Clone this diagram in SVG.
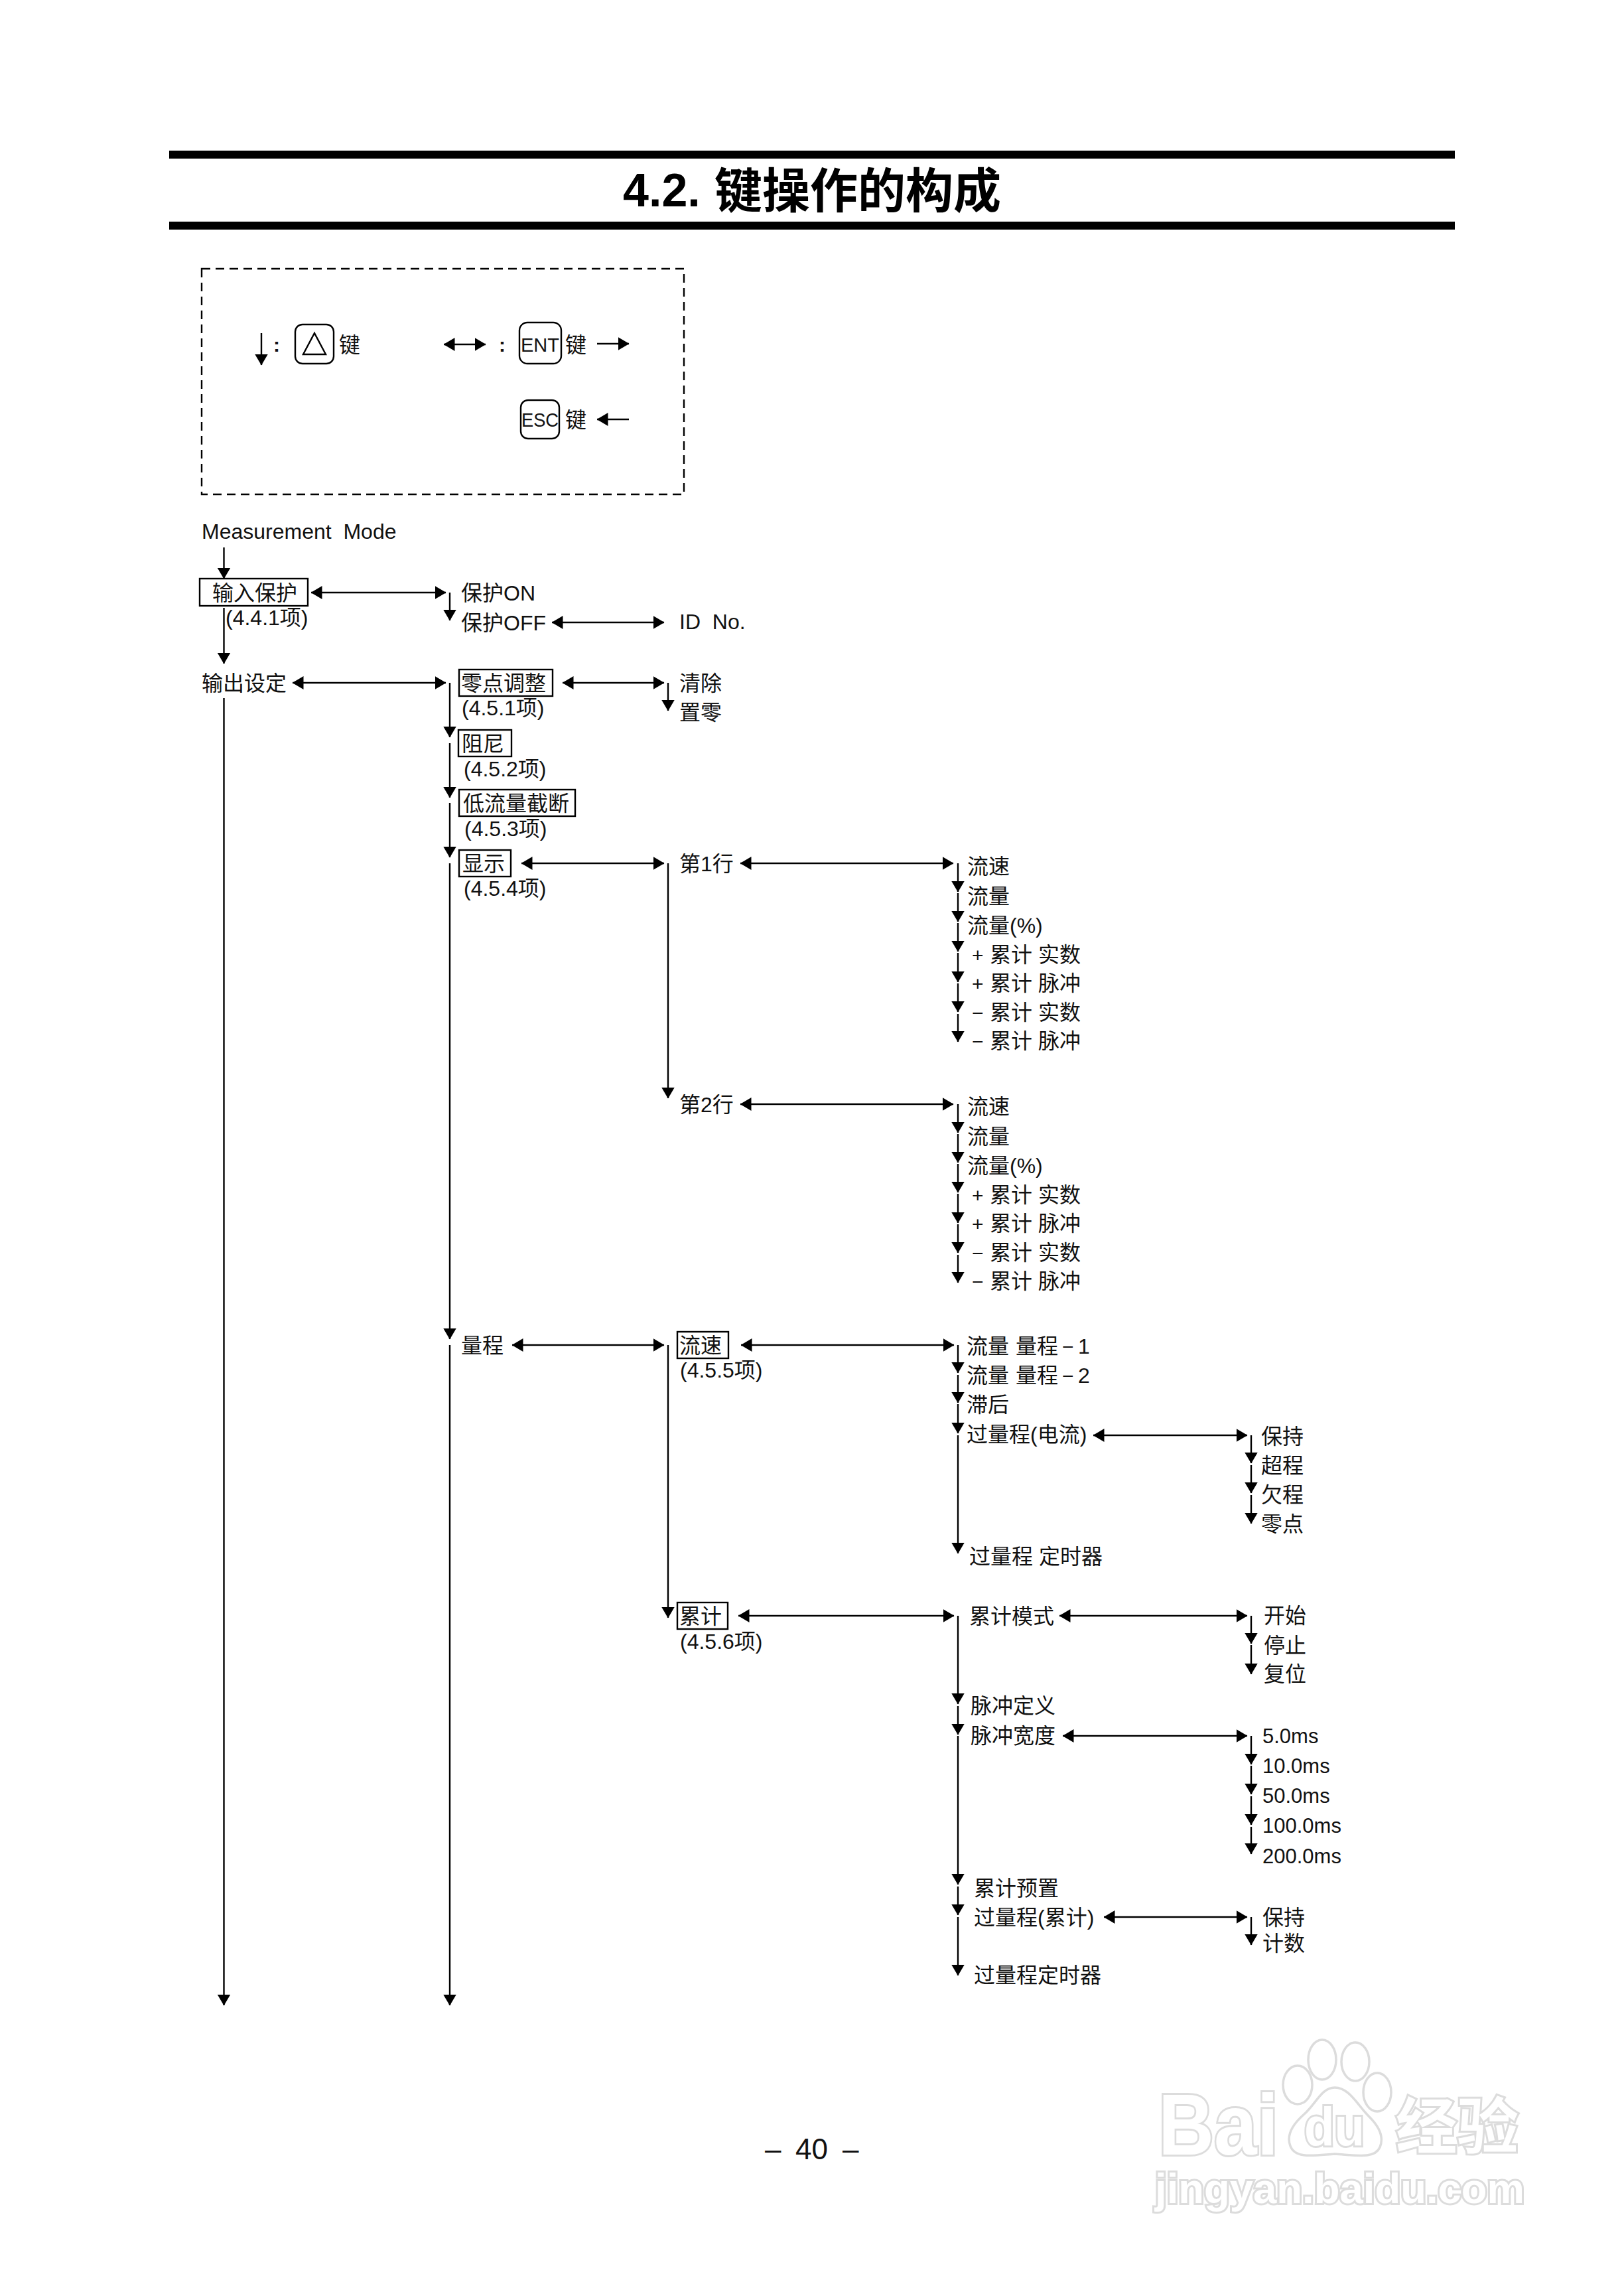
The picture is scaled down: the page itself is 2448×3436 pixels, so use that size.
<svg xmlns="http://www.w3.org/2000/svg" width="2448" height="3436" viewBox="0 0 2448 3436">
<style>
text{font-family:"Liberation Sans","Noto Sans CJK SC",sans-serif;fill:#111}
.t{font-size:32px}
.l{font-size:32px}
.s{font-size:30px}
.ms{font-size:31px}
.title{font-size:72px;font-weight:700;fill:#000}
.box{fill:#fff;stroke:#000;stroke-width:2.4}
.key{fill:none;stroke:#000;stroke-width:2.4}
.c line{stroke:#000;stroke-width:2.4}
.d{marker-end:url(#h)}
.b{marker-start:url(#hs);marker-end:url(#h)}
.wm text{fill:#fff;stroke:#dcdcdc;stroke-width:6;font-weight:700;paint-order:stroke}
.wm ellipse,.wm path{fill:#fff;stroke:#dcdcdc;stroke-width:3.5}
</style>
<defs>
<marker id="h" markerUnits="userSpaceOnUse" viewBox="0 0 17 20" markerWidth="17" markerHeight="20" refX="16.5" refY="10" orient="auto"><path d="M0 0L17 10L0 20Z" fill="#000"/></marker>
<marker id="hs" markerUnits="userSpaceOnUse" viewBox="0 0 17 20" markerWidth="17" markerHeight="20" refX="0.5" refY="10" orient="auto"><path d="M17 0L0 10L17 20Z" fill="#000"/></marker>
</defs>
<rect width="2448" height="3436" fill="#fff"/>

<g id="title">
<rect x="255" y="227" width="1938" height="12" fill="#000"/>
<rect x="255" y="334" width="1938" height="12" fill="#000"/>
<text class="title" y="311"><tspan x="939" font-size="70">4.2.</tspan><tspan x="1077" y="313">键操作的构成</tspan></text>
</g>

<g id="legend">
<rect x="304" y="405" width="727" height="340" fill="none" stroke="#000" stroke-width="2.4" stroke-dasharray="13 8"/>
<text class="s" x="412" y="530" font-weight="700">:</text>
<rect class="key" x="445" y="489" width="58" height="59" rx="11"/>
<path class="key" d="M474 502L457 534H491Z"/>
<text class="t" x="511" y="531">键</text>
<text class="s" x="752" y="530" font-weight="700">:</text>
<rect class="key" x="783" y="486" width="63" height="62" rx="12"/>
<text class="s" x="785" y="530" textLength="58" lengthAdjust="spacingAndGlyphs">ENT</text>
<text class="t" x="852" y="531">键</text>
<rect class="key" x="785" y="603" width="58" height="58" rx="11"/>
<text class="s" x="786" y="643" textLength="56" lengthAdjust="spacingAndGlyphs">ESC</text>
<text class="t" x="852" y="644">键</text>
</g>

<g id="connectors" class="c">
<line class="d" x1="394" y1="502" x2="394" y2="550"/>
<line class="b" x1="669" y1="519" x2="732" y2="519"/>
<line class="d" x1="900" y1="518" x2="948" y2="518"/>
<line class="d" x1="948" y1="632" x2="900" y2="632"/>

<line class="d" x1="337.500" y1="825" x2="337.500" y2="872"/>
<line class="d" x1="337.500" y1="916" x2="337.500" y2="1000"/>
<line class="d" x1="337.500" y1="1052" x2="337.500" y2="3022"/>
<line class="b" x1="469" y1="893" x2="672" y2="893"/>
<line class="d" x1="678" y1="893" x2="678" y2="935"/>
<line class="b" x1="832" y1="938" x2="1001" y2="938"/>
<line class="b" x1="441" y1="1029" x2="672" y2="1029"/>
<line class="d" x1="678" y1="1029" x2="678" y2="1111"/>
<line class="b" x1="848" y1="1029" x2="1001" y2="1029"/>
<line class="d" x1="1007" y1="1029" x2="1007" y2="1071"/>
<line class="d" x1="678" y1="1120" x2="678" y2="1202"/>
<line class="d" x1="678" y1="1210" x2="678" y2="1292"/>
<line class="d" x1="678" y1="1301" x2="678" y2="2018"/>
<line class="b" x1="786" y1="1301" x2="1001" y2="1301"/>
<line class="d" x1="1007" y1="1301" x2="1007" y2="1655"/>
<line class="b" x1="1116" y1="1301" x2="1437" y2="1301"/>
<line class="d" x1="1444" y1="1301" x2="1444" y2="1344"/>
<line class="d" x1="1444" y1="1346" x2="1444" y2="1389"/>
<line class="d" x1="1444" y1="1391" x2="1444" y2="1434"/>
<line class="d" x1="1444" y1="1436" x2="1444" y2="1480"/>
<line class="d" x1="1444" y1="1482" x2="1444" y2="1525"/>
<line class="d" x1="1444" y1="1528" x2="1444" y2="1570"/>
<line class="b" x1="1116" y1="1664" x2="1437" y2="1664"/>
<line class="d" x1="1444" y1="1664" x2="1444" y2="1707"/>
<line class="d" x1="1444" y1="1709" x2="1444" y2="1752"/>
<line class="d" x1="1444" y1="1754" x2="1444" y2="1797"/>
<line class="d" x1="1444" y1="1799" x2="1444" y2="1843"/>
<line class="d" x1="1444" y1="1845" x2="1444" y2="1888"/>
<line class="d" x1="1444" y1="1891" x2="1444" y2="1933"/>
<line class="d" x1="678" y1="2027" x2="678" y2="3022"/>
<line class="b" x1="772" y1="2027" x2="1001" y2="2027"/>
<line class="d" x1="1007" y1="2027" x2="1007" y2="2438"/>
<line class="b" x1="1117" y1="2027" x2="1438" y2="2027"/>
<line class="d" x1="1444" y1="2027" x2="1444" y2="2069"/>
<line class="d" x1="1444" y1="2072" x2="1444" y2="2114"/>
<line class="d" x1="1444" y1="2116" x2="1444" y2="2160"/>
<line class="d" x1="1444" y1="2163" x2="1444" y2="2341"/>
<line class="b" x1="1648" y1="2163" x2="1880" y2="2163"/>
<line class="d" x1="1886" y1="2163" x2="1886" y2="2205"/>
<line class="d" x1="1886" y1="2208" x2="1886" y2="2250"/>
<line class="d" x1="1886" y1="2253" x2="1886" y2="2296"/>
<line class="b" x1="1113" y1="2435" x2="1438" y2="2435"/>
<line class="d" x1="1444" y1="2435" x2="1444" y2="2568"/>
<line class="b" x1="1597" y1="2435" x2="1880" y2="2435"/>
<line class="d" x1="1886" y1="2435" x2="1886" y2="2477"/>
<line class="d" x1="1886" y1="2479" x2="1886" y2="2523"/>
<line class="d" x1="1444" y1="2571" x2="1444" y2="2614"/>
<line class="d" x1="1444" y1="2616" x2="1444" y2="2840"/>
<line class="b" x1="1602" y1="2616" x2="1880" y2="2616"/>
<line class="d" x1="1886" y1="2616" x2="1886" y2="2659"/>
<line class="d" x1="1886" y1="2661" x2="1886" y2="2704"/>
<line class="d" x1="1886" y1="2707" x2="1886" y2="2750"/>
<line class="d" x1="1886" y1="2753" x2="1886" y2="2794"/>
<line class="d" x1="1444" y1="2843" x2="1444" y2="2886"/>
<line class="d" x1="1444" y1="2889" x2="1444" y2="2977"/>
<line class="b" x1="1664" y1="2889" x2="1880" y2="2889"/>
<line class="d" x1="1886" y1="2889" x2="1886" y2="2931"/>
</g>

<g id="n-mode"><text class="l" x="304" y="812" xml:space="preserve">Measurement  Mode</text></g>
<g id="n-input"><rect class="box" x="301" y="872" width="163" height="41"/><text class="t" x="320" y="905">输入保护</text><text class="l" x="340" y="942">(4.4.1项)</text></g>
<g id="n-on"><text class="t" x="695" y="905">保护ON</text></g>
<g id="n-off"><text class="t" x="695" y="950">保护OFF</text></g>
<g id="n-id"><text class="l" x="1024" y="948" xml:space="preserve">ID  No.</text></g>
<g id="n-output"><text class="t" x="304" y="1041">输出设定</text></g>
<g id="n-zero"><rect class="box" x="692" y="1009" width="141" height="40"/><text class="t" x="695" y="1041">零点调整</text><text class="l" x="696" y="1078">(4.5.1项)</text></g>
<g id="n-clear"><text class="t" x="1024" y="1041">清除</text></g>
<g id="n-setzero"><text class="t" x="1024" y="1085">置零</text></g>
<g id="n-damp"><rect class="box" x="691" y="1100" width="80" height="40"/><text class="t" x="696" y="1132">阻尼</text><text class="l" x="699" y="1170">(4.5.2项)</text></g>
<g id="n-lowcut"><rect class="box" x="692" y="1190" width="175" height="40"/><text class="t" x="698" y="1222">低流量截断</text><text class="l" x="700" y="1260">(4.5.3项)</text></g>
<g id="n-display"><rect class="box" x="692" y="1281" width="78" height="40"/><text class="t" x="697" y="1313">显示</text><text class="l" x="699" y="1350">(4.5.4项)</text></g>

<g id="n-row1"><text class="t" x="1024" y="1313">第1行</text></g>
<g id="n-row1-items">
<text class="t" x="1458" y="1317">流速</text>
<text class="t" x="1458" y="1362">流量</text>
<text class="t" x="1458" y="1406">流量(%)</text>
<text class="t" y="1450"><tspan class="s" x="1465">+</tspan><tspan x="1492">累计</tspan><tspan x="1565">实数</tspan></text>
<text class="t" y="1493"><tspan class="s" x="1465">+</tspan><tspan x="1492">累计</tspan><tspan x="1565">脉冲</tspan></text>
<text class="t" y="1537"><tspan class="s" x="1465">−</tspan><tspan x="1492">累计</tspan><tspan x="1565">实数</tspan></text>
<text class="t" y="1580"><tspan class="s" x="1465">−</tspan><tspan x="1492">累计</tspan><tspan x="1565">脉冲</tspan></text>
</g>
<g id="n-row2"><text class="t" x="1024" y="1676">第2行</text></g>
<g id="n-row2-items">
<text class="t" x="1458" y="1679">流速</text>
<text class="t" x="1458" y="1724">流量</text>
<text class="t" x="1458" y="1768">流量(%)</text>
<text class="t" y="1812"><tspan class="s" x="1465">+</tspan><tspan x="1492">累计</tspan><tspan x="1565">实数</tspan></text>
<text class="t" y="1855"><tspan class="s" x="1465">+</tspan><tspan x="1492">累计</tspan><tspan x="1565">脉冲</tspan></text>
<text class="t" y="1899"><tspan class="s" x="1465">−</tspan><tspan x="1492">累计</tspan><tspan x="1565">实数</tspan></text>
<text class="t" y="1942"><tspan class="s" x="1465">−</tspan><tspan x="1492">累计</tspan><tspan x="1565">脉冲</tspan></text>
</g>

<g id="n-range"><text class="t" x="695" y="2039">量程</text></g>
<g id="n-velocity"><rect class="box" x="1021" y="2007" width="77" height="40"/><text class="t" x="1024" y="2039">流速</text><text class="l" x="1025" y="2076">(4.5.5项)</text></g>
<g id="n-velocity-items">
<text class="t" y="2040"><tspan x="1457">流量</tspan><tspan x="1531">量程</tspan><tspan class="s" x="1601">−</tspan><tspan class="l" x="1625">1</tspan></text>
<text class="t" y="2084"><tspan x="1457">流量</tspan><tspan x="1531">量程</tspan><tspan class="s" x="1601">−</tspan><tspan class="l" x="1625">2</tspan></text>
<text class="t" x="1457" y="2128">滞后</text>
<text class="t" x="1457" y="2173">过量程(电流)</text>
<text class="t" y="2357"><tspan x="1461">过量程</tspan><tspan x="1566">定时器</tspan></text>
</g>
<g id="n-overrange-items">
<text class="t" x="1901" y="2176">保持</text>
<text class="t" x="1901" y="2220">超程</text>
<text class="t" x="1901" y="2264">欠程</text>
<text class="t" x="1901" y="2308">零点</text>
</g>
<g id="n-total"><rect class="box" x="1021" y="2415" width="76" height="40"/><text class="t" x="1024" y="2447">累计</text><text class="l" x="1025" y="2485">(4.5.6项)</text></g>
<g id="n-total-items">
<text class="t" x="1461" y="2447">累计模式</text>
<text class="t" x="1463" y="2582">脉冲定义</text>
<text class="t" x="1463" y="2627">脉冲宽度</text>
<text class="t" x="1468" y="2857">累计预置</text>
<text class="t" x="1468" y="2901">过量程(累计)</text>
<text class="t" x="1468" y="2988">过量程定时器</text>
</g>
<g id="n-mode-items">
<text class="t" x="1905" y="2446">开始</text>
<text class="t" x="1905" y="2491">停止</text>
<text class="t" x="1905" y="2534">复位</text>
</g>
<g id="n-width-items">
<text class="ms" x="1903" y="2627">5.0ms</text>
<text class="ms" x="1903" y="2672">10.0ms</text>
<text class="ms" x="1903" y="2717">50.0ms</text>
<text class="ms" x="1903" y="2762">100.0ms</text>
<text class="ms" x="1903" y="2808">200.0ms</text>
</g>
<g id="n-overtotal-items">
<text class="t" x="1903" y="2901">保持</text>
<text class="t" x="1903" y="2940">计数</text>
</g>

<g id="page"><text font-size="44" y="3254"><tspan x="1153">–</tspan><tspan x="1199">40</tspan><tspan x="1270">–</tspan></text></g>

<g id="watermark" class="wm">
<ellipse cx="1956" cy="3142" rx="22" ry="29"/>
<ellipse cx="1993" cy="3104" rx="21" ry="30"/>
<ellipse cx="2043" cy="3107" rx="21" ry="29"/>
<ellipse cx="2076" cy="3153" rx="21" ry="29"/>
<path d="M2012 3146C2034 3146 2046 3172 2064 3190C2080 3206 2086 3222 2080 3236C2072 3254 2044 3248 2012 3246C1982 3248 1952 3254 1945 3234C1938 3216 1950 3200 1966 3186C1984 3170 1992 3146 2012 3146Z"/>
<text font-size="130" x="1746" y="3247" textLength="181" lengthAdjust="spacingAndGlyphs">Bai</text>
<text font-size="82" x="1966" y="3233" textLength="91" lengthAdjust="spacingAndGlyphs">du</text>
<text font-size="92" x="2104" y="3238" textLength="185" lengthAdjust="spacingAndGlyphs">经验</text>
<text font-size="63" x="1741" y="3320" textLength="557" lengthAdjust="spacingAndGlyphs">jingyan.baidu.com</text>
</g>
</svg>
